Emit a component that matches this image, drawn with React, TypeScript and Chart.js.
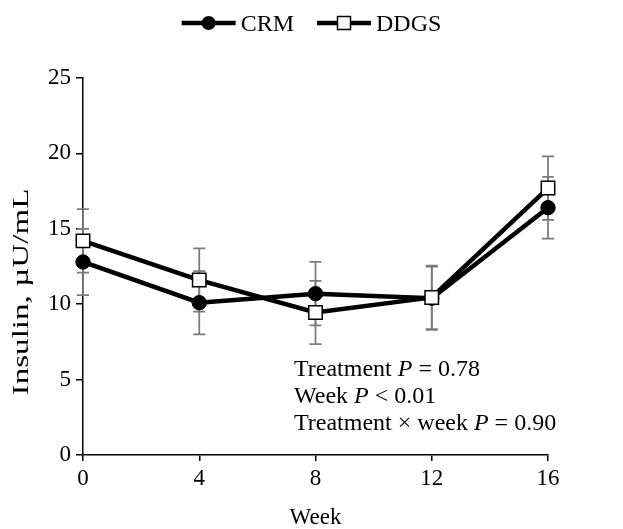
import React, { useEffect, useRef } from "react";
import { Chart, registerables } from "chart.js";

Chart.register(...registerables);

// ---- data ----
const weeks = [0, 4, 8, 12, 16];
const crmMean = [12.8, 10.1, 10.7, 10.4, 16.4];
const crmSE = [2.2, 2.1, 2.1, 2.1, 2.05];
const ddgsMean = [14.2, 11.6, 9.45, 10.45, 17.7];
const ddgsSE = [2.1, 2.1, 2.1, 2.1, 2.1];
const yTickValues = [0, 5, 10, 15, 20, 25];
const xTickValues = [0, 4, 8, 12, 16];
const seriesLabels = ["CRM", "DDGS"];
const xTitle = "Week";
const yTitle = "Insulin, \u00B5U/mL";
const statLines = [
  ["Treatment ", "P", " = 0.78"],
  ["Week ", "P", " < 0.01"],
  ["Treatment \u00D7 week ", "P", " = 0.90"],
];

const FONT = "'Liberation Serif', 'Times New Roman', Times, serif";
const TICK_SIZE = 23;

function drawMarker(ctx: CanvasRenderingContext2D, kind: string, x: number, y: number) {
  if (kind === "circle") {
    ctx.beginPath();
    ctx.arc(x, y, 7, 0, Math.PI * 2);
    ctx.fillStyle = "#000";
    ctx.fill();
  } else {
    ctx.fillStyle = "#fff";
    ctx.fillRect(x - 6.5, y - 6.5, 13, 13);
    ctx.strokeStyle = "#000";
    ctx.lineWidth = 1.5;
    ctx.strokeRect(x - 6.5, y - 6.5, 13, 13);
  }
}

const seKinds = [crmSE, ddgsSE];
const markerKinds = ["circle", "square"];

const errorBarPlugin = {
  id: "errorBars",
  beforeDatasetsDraw(chart: any) {
    const { ctx } = chart;
    const x = chart.scales.x;
    const y = chart.scales.y;
    ctx.save();
    ctx.strokeStyle = "#7a7a7a";
    ctx.lineWidth = 1.75;
    chart.data.datasets.forEach((ds: any, di: number) => {
      const se = seKinds[di];
      ds.data.forEach((pt: any, i: number) => {
        const px = x.getPixelForValue(pt.x);
        const top = y.getPixelForValue(pt.y + se[i]);
        const bot = y.getPixelForValue(pt.y - se[i]);
        ctx.beginPath();
        ctx.moveTo(px, top);
        ctx.lineTo(px, bot);
        ctx.moveTo(px - 6, top);
        ctx.lineTo(px + 6, top);
        ctx.moveTo(px - 6, bot);
        ctx.lineTo(px + 6, bot);
        ctx.stroke();
      });
    });
    ctx.restore();
  },
};

const legendPlugin = {
  id: "lineLegend",
  afterDraw(chart: any) {
    const ctx: CanvasRenderingContext2D = chart.ctx;
    ctx.save();
    ctx.font = `24px ${FONT}`;
    const iconW = 54;
    const gapText = 5;
    const gapItem = 23;
    const widths = seriesLabels.map((l) => iconW + gapText + ctx.measureText(l).width);
    const total = widths.reduce((a, b) => a + b, 0) + gapItem * (widths.length - 1);
    let x = chart.width / 2 - total / 2;
    const cy = 23;
    seriesLabels.forEach((label, i) => {
      ctx.strokeStyle = "#000";
      ctx.lineWidth = 4.5;
      ctx.beginPath();
      ctx.moveTo(x, cy);
      ctx.lineTo(x + iconW, cy);
      ctx.stroke();
      drawMarker(ctx, markerKinds[i], x + iconW / 2, cy);
      ctx.fillStyle = "#000";
      ctx.textBaseline = "alphabetic";
      ctx.textAlign = "left";
      ctx.font = `24px ${FONT}`;
      ctx.fillText(label, x + iconW + gapText, cy + 8);
      x += widths[i] + gapItem;
    });
    ctx.restore();
  },
};

const yTitlePlugin = {
  id: "yTitle",
  afterDraw(chart: any) {
    const ctx: CanvasRenderingContext2D = chart.ctx;
    ctx.save();
    ctx.translate(22, 292);
    ctx.rotate(-Math.PI / 2);
    ctx.scale(1.38, 1);
    ctx.font = `24px ${FONT}`;
    ctx.fillStyle = "#000";
    ctx.textAlign = "center";
    ctx.textBaseline = "middle";
    ctx.fillText(yTitle, 0, 0);
    ctx.restore();
  },
};

const statsPlugin = {
  id: "stats",
  afterDraw(chart: any) {
    const ctx: CanvasRenderingContext2D = chart.ctx;
    ctx.save();
    ctx.fillStyle = "#000";
    ctx.textBaseline = "alphabetic";
    ctx.textAlign = "left";
    const left = 294;
    const base0 = 376;
    const lh = 27;
    statLines.forEach((parts, li) => {
      let x = left;
      parts.forEach((p, pi) => {
        ctx.font = `${pi === 1 ? "italic " : ""}24px ${FONT}`;
        ctx.fillText(p, x, base0 + li * lh);
        x += ctx.measureText(p).width;
      });
    });
    ctx.restore();
  },
};

export default function App() {
  const ref = useRef<HTMLCanvasElement | null>(null);
  useEffect(() => {
    if (!ref.current) return;
    const chart = new Chart(ref.current, {
      type: "line",
      data: {
        datasets: [
          {
            label: seriesLabels[0],
            data: weeks.map((w, i) => ({ x: w, y: crmMean[i] })),
            borderColor: "#000",
            borderWidth: 4.5,
            pointStyle: "circle",
            pointRadius: 7.2,
            pointBackgroundColor: "#000",
            pointBorderColor: "#000",
            pointBorderWidth: 1,
            tension: 0,
            clip: false,
            order: 1,
          },
          {
            label: seriesLabels[1],
            data: weeks.map((w, i) => ({ x: w, y: ddgsMean[i] })),
            borderColor: "#000",
            borderWidth: 4.5,
            pointStyle: "rect",
            pointRadius: 9.5,
            pointBackgroundColor: "#fff",
            pointBorderColor: "#000",
            pointBorderWidth: 1.5,
            tension: 0,
            clip: false,
            order: 0,
          },
        ],
      },
      options: {
        animation: false,
        responsive: false,
        events: [],
        layout: { padding: { top: 78, right: 75, bottom: 0, left: 0 } },
        plugins: {
          legend: { display: false },
          tooltip: { enabled: false },
        },
        scales: {
          x: {
            type: "linear",
            min: 0,
            max: 16,
            afterBuildTicks: (s: any) => {
              s.ticks = xTickValues.map((v) => ({ value: v }));
            },
            afterFit: (s: any) => {
              s.height = 74;
            },
            grid: {
              display: true,
              drawOnChartArea: false,
              drawTicks: true,
              tickLength: 6,
              color: "#000",
              lineWidth: 1.5,
            },
            border: { display: true, color: "#000", width: 1.5 },
            ticks: {
              color: "#000",
              font: { family: FONT, size: TICK_SIZE },
              padding: 4,
              maxRotation: 0,
            },
            title: {
              display: true,
              text: xTitle,
              color: "#000",
              font: { family: FONT, size: TICK_SIZE, lineHeight: 1 },
              padding: { top: 0, bottom: 0 },
            },
          },
          y: {
            type: "linear",
            min: 0,
            max: 25,
            afterBuildTicks: (s: any) => {
              s.ticks = yTickValues.map((v) => ({ value: v }));
            },
            afterFit: (s: any) => {
              s.width = 83;
            },
            grid: {
              display: true,
              drawOnChartArea: false,
              drawTicks: true,
              tickLength: 7,
              color: "#000",
              lineWidth: 1.5,
            },
            border: { display: true, color: "#000", width: 1.5 },
            ticks: {
              color: "#000",
              font: { family: FONT, size: TICK_SIZE },
              padding: 5,
            },
            title: { display: false },
          },
        },
      },
      plugins: [errorBarPlugin, legendPlugin, statsPlugin, yTitlePlugin],
    } as any);
    return () => chart.destroy();
  }, []);
  return (
    <div style={{ position: "absolute", left: 0, top: 0, width: 623, height: 529 }}>
      <canvas ref={ref} width={623} height={529} style={{ display: "block" }} />
    </div>
  );
}
